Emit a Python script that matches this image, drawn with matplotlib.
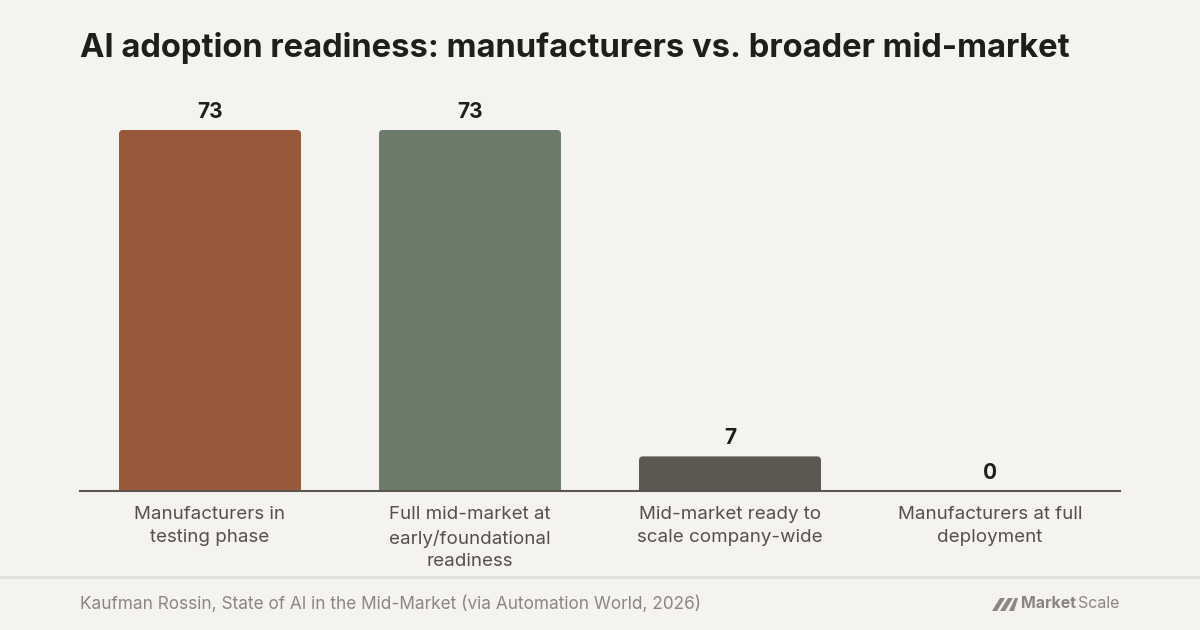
import matplotlib.pyplot as plt
from matplotlib.patches import FancyBboxPatch, Polygon
from matplotlib.lines import Line2D

# ─── Data ────────────────────────────────────────────────────────────────────
categories = [
    "Manufacturers in\ntesting phase",
    "Full mid-market at\nearly/foundational\nreadiness",
    "Mid-market ready to\nscale company-wide",
    "Manufacturers at full\ndeployment",
]
values = [73, 73, 7, 0]
bar_colors = ["#9a583b", "#6b7c6a", "#5c5750", "#5c5750"]

title = "AI adoption readiness: manufacturers vs. broader mid-market"
source = "Kaufman Rossin, State of AI in the Mid-Market (via Automation World, 2026)"

# ─── Style ───────────────────────────────────────────────────────────────────
BG = "#f4f3ef"
plt.rcParams["font.family"] = ["Inter", "DejaVu Sans"]

W, H = 1200, 630
fig = plt.figure(figsize=(12, 6.3), dpi=100, facecolor=BG)

# axes: x 80..1120 px, y baseline at 491 px, top at 100 px
ax_l, ax_r, ax_b, ax_t = 80, 1120, 491, 100
ax = fig.add_axes([ax_l / W, 1 - ax_b / H, (ax_r - ax_l) / W, (ax_b - ax_t) / H])
ax.set_facecolor(BG)

x = list(range(len(values)))
bw = 0.7
ymax = 73 * (ax_b - ax_t) / (491 - 130)
ax.set_xlim(-0.5, len(values) - 0.5)
ax.set_ylim(0, ymax)

# rounded bars (bottom corners hidden below the axis)
px_per_x = (ax_r - ax_l) / len(values)
px_per_y = (ax_b - ax_t) / ymax
aspect = px_per_x / px_per_y
for xi, v, c in zip(x, values, bar_colors):
    if v <= 0:
        continue
    p = FancyBboxPatch((xi - bw / 2, -2), bw, v + 2,
                       boxstyle=f"round,pad=0,rounding_size={4 / px_per_x}",
                       mutation_aspect=aspect, facecolor=c, edgecolor="none",
                       clip_on=True)
    ax.add_patch(p)

for xi, v in zip(x, values):
    ax.annotate(str(v), (xi, v), xytext=(0, 6), textcoords="offset points",
                ha="center", va="bottom", fontsize=15, fontweight="bold",
                color="#1f1e1c")

for s in ["top", "right", "left"]:
    ax.spines[s].set_visible(False)
ax.spines["bottom"].set_color("#5c5750")
ax.spines["bottom"].set_linewidth(1.5)
ax.set_yticks([])
ax.set_xticks(x)
ax.set_xticklabels(categories, fontsize=13.5, color="#55504a", linespacing=1.45)
ax.tick_params(axis="x", length=0, pad=11)

# ─── Title & footer ─────────────────────────────────────────────────────────
fig.text(80 / W, 1 - 48 / H, title, fontsize=23.6, fontweight="bold",
         color="#1f1e1c", ha="left", va="center")

fig.add_artist(Line2D([0, 1], [1 - 577 / H] * 2, color="#e4e2dd", lw=2))
fig.text(80 / W, 1 - 604 / H, source, fontsize=12.4, color="#8a8782",
         ha="left", va="center")

# MarketScale logo
fig.text(1021 / W, 1 - 604 / H, "Market", fontsize=11.5, fontweight="bold",
         color="#8a8782", ha="left", va="center")
fig.text(1119 / W, 1 - 604 / H, "Scale", fontsize=11.5, color="#8a8782",
         ha="right", va="center")
for xs in ([992, 997, 1005, 1000], [1000, 1005, 1013, 1008],
           [1009, 1014, 1018, 1015]):
    ys = [611, 611, 598, 598]
    fig.add_artist(Polygon([(a / W, 1 - b / H) for a, b in zip(xs, ys)],
                           closed=True, facecolor="#8a8782", edgecolor="none",
                           transform=fig.transFigure))

fig.savefig("out.png", dpi=100, facecolor=BG)
